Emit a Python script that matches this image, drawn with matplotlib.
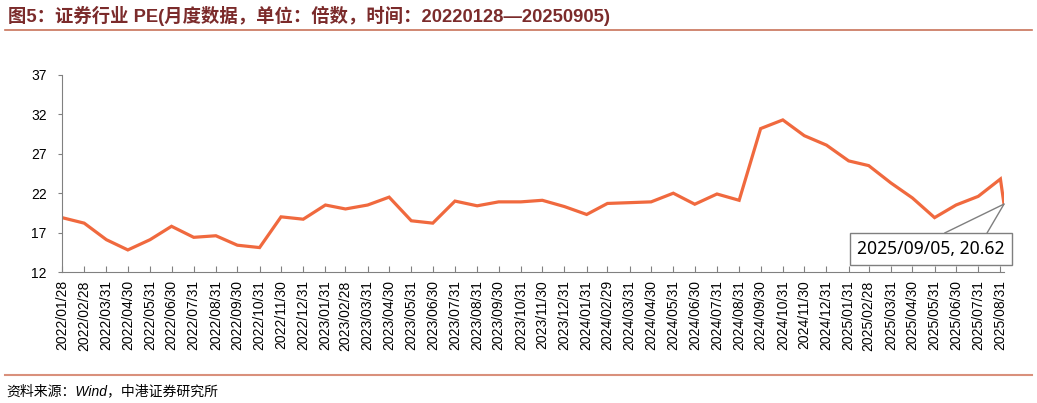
import matplotlib.pyplot as plt
import matplotlib.dates as mdates
import pandas as pd

# month-end labels shown on the x axis
tick_labels = [
    "2022/01/28", "2022/02/28", "2022/03/31", "2022/04/30", "2022/05/31", "2022/06/30",
    "2022/07/31", "2022/08/31", "2022/09/30", "2022/10/31", "2022/11/30", "2022/12/31",
    "2023/01/31", "2023/02/28", "2023/03/31", "2023/04/30", "2023/05/31", "2023/06/30",
    "2023/07/31", "2023/08/31", "2023/09/30", "2023/10/31", "2023/11/30", "2023/12/31",
    "2024/01/31", "2024/02/29", "2024/03/31", "2024/04/30", "2024/05/31", "2024/06/30",
    "2024/07/31", "2024/08/31", "2024/09/30", "2024/10/31", "2024/11/30", "2024/12/31",
    "2025/01/31", "2025/02/28", "2025/03/31", "2025/04/30", "2025/05/31", "2025/06/30",
    "2025/07/31", "2025/08/31",
]
last_date = "2025/09/05"

pe = [18.9, 18.2, 16.1, 14.8, 16.1, 17.8, 16.4, 16.6, 15.4, 15.1, 19.0, 18.7,
      20.5, 20.0, 20.5, 21.5, 18.5, 18.2, 21.0, 20.4, 20.9, 20.9, 21.1, 20.3,
      19.3, 20.7, 20.8, 20.9, 22.0, 20.6, 21.9, 21.1, 30.2, 31.3, 29.3, 28.1,
      26.1, 25.5, 23.3, 21.4, 18.9, 20.5, 21.6, 23.8, 20.62]

dates = pd.to_datetime(tick_labels + [last_date], format="%Y/%m/%d")
tick_dates = dates[:-1]

fig = plt.figure(figsize=(10.37, 4.03), dpi=100)
ax = fig.add_axes([62 / 1037, 131 / 403, 942 / 1037, 197 / 403])

ax.plot(dates, pe, color="#F0693E", lw=2.3, solid_joinstyle="miter")

ax.set_xlim(dates[0], dates[-1])
ax.set_ylim(12, 37)
ax.set_yticks([12, 17, 22, 27, 32, 37])
ax.set_xticks(tick_dates)
ax.set_xticklabels(tick_labels, rotation=90, family="Liberation Sans", fontsize=10)
for lab in ax.get_yticklabels():
    lab.set_family("Liberation Sans")
    lab.set_fontsize(10)

for s in ["top", "right"]:
    ax.spines[s].set_visible(False)
for s in ["left", "bottom"]:
    ax.spines[s].set_color("#808080")
ax.tick_params(axis="x", direction="in", length=4, color="#808080", pad=6)
ax.tick_params(axis="y", direction="out", length=3, color="#808080", pad=8)

# callout for the latest value
label = f"{dates[-1]:%Y/%m/%d}, {pe[-1]:.2f}"
for xf in [0.937, 0.982]:
    ax.annotate("", xy=(dates[-1], pe[-1]), xytext=(xf, 0.198),
                textcoords="axes fraction",
                arrowprops=dict(arrowstyle="-", color="#7f7f7f", lw=1,
                                shrinkA=0, shrinkB=0), annotation_clip=False)
ax.text(0.9225, 0.119, label, transform=ax.transAxes, ha="center", va="center",
        fontsize=12.6, family="Noto Sans", clip_on=False,
        bbox=dict(boxstyle="square,pad=0.4", fc="white", ec="#7f7f7f", lw=1))

# title, rules, source
fig.text(8 / 1037, 1 - 16 / 403, "图5：证券行业 PE(月度数据，单位：倍数，时间：20220128—20250905)",
         fontsize=13.2, fontweight="bold", color="#7B2B2B",
         family=["Liberation Sans", "Noto Sans CJK SC"], va="center")
fig.add_artist(plt.Line2D([5 / 1037, 1032 / 1037], [1 - 30 / 403, 1 - 30 / 403],
                          color="#C8735A", lw=1.2))
fig.add_artist(plt.Line2D([5 / 1037, 1032 / 1037], [1 - 374.5 / 403, 1 - 374.5 / 403],
                          color="#D9907C", lw=1.5))
fig.text(6 / 1037, 1 - 391 / 403, "资料来源：Wind，中港证券研究所", fontsize=10,
         style="italic", family=["Liberation Sans", "Noto Sans CJK SC"], va="center")

fig.savefig("out.png", dpi=100)
